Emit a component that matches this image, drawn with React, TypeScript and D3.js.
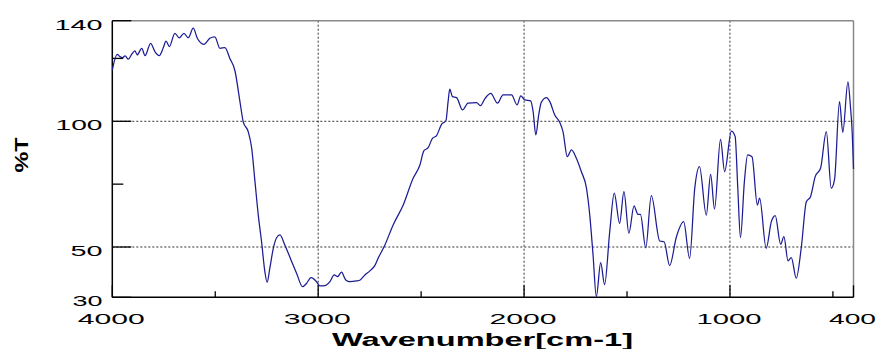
import React from 'react';
import * as d3 from 'd3';

const wavenumbers = [
  4000, 3976, 3963, 3950, 3938, 3922, 3906, 3890, 3879, 3857, 3841, 3814, 3793, 3772, 3752, 3739, 3723,
  3696, 3675, 3652, 3631, 3607, 3587, 3555, 3526, 3502, 3477, 3453, 3429, 3404, 3380, 3364, 3340, 3323,
  3307, 3291, 3275, 3259, 3248, 3235, 3218, 3202, 3186, 3162, 3129, 3105, 3076, 3056, 3035, 3008, 2992,
  2968, 2943, 2922, 2906, 2887, 2866, 2846, 2814, 2798, 2773, 2749, 2725, 2709, 2676, 2636, 2587, 2539,
  2506, 2487, 2466, 2445, 2425, 2401, 2380, 2369, 2361, 2348, 2328, 2299, 2272, 2231, 2212, 2190, 2162,
  2129, 2102, 2061, 2034, 2016, 1997, 1968, 1956, 1943, 1929, 1916, 1891, 1875, 1851, 1827, 1811, 1790,
  1770, 1746, 1722, 1697, 1681, 1665, 1649, 1628, 1609, 1584, 1562, 1536, 1515, 1491, 1466, 1447, 1435,
  1409, 1382, 1341, 1320, 1293, 1260, 1225, 1196, 1171, 1148, 1115, 1094, 1075, 1046, 1026, 993, 975,
  962, 949, 930, 914, 893, 867, 856, 824, 799, 780, 754, 738, 718, 702, 678, 654, 629, 609, 586, 560,
  532, 508, 492, 468, 452, 427, 415, 406, 400,
];

const transmittance = [
  120.4, 126.6, 125.7, 125.3, 126, 124.7, 126.6, 128, 126.4, 129, 126.1, 131, 127.7, 126.1, 129.3, 131.9, 129.7,
  135, 133.2, 135, 133.2, 137, 133, 130.6, 133, 133.6, 129, 129.3, 125, 120, 107.8, 99.8, 95.9, 89.3,
  76, 62.7, 52.1, 40.2, 36, 41.5, 49.5, 53.7, 54.8, 50.8, 44.2, 39.6, 34.2, 35.6, 37.8, 36.2, 34.5,
  34.6, 36.2, 38.9, 38.2, 40, 36.9, 36.2, 36.5, 36.8, 38.9, 40.5, 42.6, 45.5, 50.8, 58.8, 66.7, 77.3,
  82.6, 88.2, 89.5, 93.2, 94.3, 98.8, 100.1, 107.8, 112.8, 109.8, 109.4, 104.5, 107.2, 107.4, 106.2, 109, 111.1,
  107.2, 110.5, 110.5, 106.5, 110.1, 108.5, 108.1, 103.8, 94.6, 102.5, 107.6, 109.4, 107.8, 102.5, 99.6, 95.9, 85.9,
  88.6, 85.3, 80, 73.4, 62.7, 46.8, 30.3, 43.8, 35, 56.1, 71.4, 59.4, 72, 55.5, 66.4, 63, 63,
  49.7, 70.4, 52.4, 52.1, 42.6, 54.1, 60.1, 45.5, 73.4, 82, 62.7, 78.9, 65.1, 92.8, 80, 96.1, 94,
  73.4, 53.7, 76, 86.6, 85.9, 66.7, 69.4, 49.5, 60.1, 62.5, 51.1, 54.1, 44.5, 45.8, 37.6, 49.5, 68, 70, 78, 81.3,
  95.9, 73.4, 76.9, 107.8, 95.6, 115.7, 106, 95, 81,
];

const xTickLabels = [4000, 3000, 2000, 1000, 400];
const xTickLabelWidths = [67, 67, 67, 65, 47];
const xMinorTicks = [3500, 2500, 1500, 500];
const xGrid = [3000, 2000, 1000];
const yTickLabels = [140, 100, 50, 30];
const yTickLabelWidths = [48, 47, 32, 30];
const yMinorTicks = [125, 75];
const yGrid = [100, 50];

const W = 878;
const H = 349;
const L = 112.3;
const R = 853.5;
const T = 20.7;
const B = 297.3;

export default function App() {
  const x = d3.scaleLinear().domain([4000, 400]).range([L, R]);
  const y = d3.scaleLinear().domain([30, 140]).range([B, T]);
  const pts: [number, number][] = wavenumbers.map((w, i) => [w, transmittance[i]]);
  const line = d3
    .line<[number, number]>()
    .x((d) => x(d[0]))
    .y((d) => y(d[1]))
    .curve(d3.curveMonotoneX);

  const font = "'Liberation Sans', Arial, sans-serif";

  return (
    <svg
      width={W}
      height={H}
      style={{ position: 'absolute', left: 0, top: 0, background: '#fff' }}
    >
      <rect x={0} y={0} width={W} height={H} fill="#fff" />
      {/* grid */}
      {xGrid.map((g) => (
        <line key={'xg' + g} x1={x(g)} x2={x(g)} y1={T} y2={B} stroke="#333" strokeWidth={1} strokeDasharray="2,2" />
      ))}
      {yGrid.map((g) => (
        <line key={'yg' + g} x1={L} x2={R} y1={y(g)} y2={y(g)} stroke="#333" strokeWidth={1} strokeDasharray="2,2" />
      ))}
      {/* frame */}
      <line x1={L} x2={R} y1={T} y2={T} stroke="#888" strokeWidth={1.5} />
      <line x1={R} x2={R} y1={T} y2={B} stroke="#888" strokeWidth={1.5} />
      <line x1={L} x2={L} y1={T} y2={B} stroke="#000" strokeWidth={1.5} />
      <line x1={L} x2={R} y1={B} y2={B} stroke="#000" strokeWidth={1.5} />
      {/* y ticks */}
      {yTickLabels.map((v) => (
        <line key={'yt' + v} x1={L} x2={L + 19} y1={y(v)} y2={y(v)} stroke="#000" strokeWidth={1.3} />
      ))}
      {yMinorTicks.map((v) => (
        <line key={'ym' + v} x1={L} x2={L + 11} y1={y(v)} y2={y(v)} stroke="#000" strokeWidth={1.3} />
      ))}
      {/* x ticks */}
      {xTickLabels.map((v) => (
        <line key={'xt' + v} x1={x(v)} x2={x(v)} y1={B} y2={B - 12} stroke="#000" strokeWidth={1.3} />
      ))}
      {xMinorTicks.map((v) => (
        <line key={'xm' + v} x1={x(v)} x2={x(v)} y1={B} y2={B - 6} stroke="#000" strokeWidth={1.3} />
      ))}
      {/* spectrum */}
      <path d={line(pts) || ''} fill="none" stroke="#1c1c94" strokeWidth={1.25} />
      {/* labels */}
      {xTickLabels.map((v, i) => (
        <text
          key={'xl' + v}
          x={x(v) - 1}
          y={324}
          textAnchor="middle"
          fontFamily={font}
          fontSize={15}
          textLength={xTickLabelWidths[i]}
          lengthAdjust="spacingAndGlyphs"
          fill="#000"
        >
          {v}
        </text>
      ))}
      {yTickLabels.map((v, i) => (
        <text
          key={'yl' + v}
          x={102.5}
          y={y(v) + 9}
          textAnchor="end"
          fontFamily={font}
          fontSize={15}
          textLength={yTickLabelWidths[i]}
          lengthAdjust="spacingAndGlyphs"
          fill="#000"
        >
          {v}
        </text>
      ))}
      <text
        x={482.5}
        y={346}
        textAnchor="middle"
        fontFamily={font}
        fontWeight="bold"
        fontSize={18}
        textLength={301}
        lengthAdjust="spacingAndGlyphs"
        fill="#000"
      >
        Wavenumber[cm-1]
      </text>
      <text
        transform="translate(28,155) rotate(-90)"
        textAnchor="middle"
        fontFamily={font}
        fontWeight="bold"
        fontSize={19}
        textLength={35}
        lengthAdjust="spacingAndGlyphs"
        fill="#000"
      >
        %T
      </text>
    </svg>
  );
}
